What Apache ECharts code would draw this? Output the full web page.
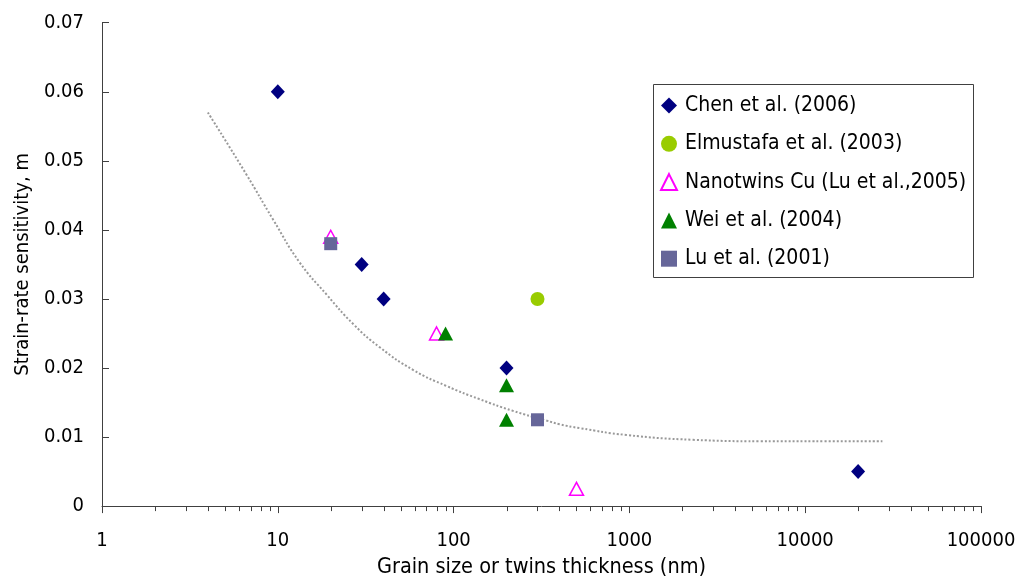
<!DOCTYPE html>
<html>
<head>
<meta charset="utf-8">
<script src="https://cdn.jsdelivr.net/npm/echarts@6/dist/echarts.min.js"></script>
<style>
  html, body { margin: 0; padding: 0; background: #fff; }
  #chart { width: 1022px; height: 583px; }
</style>
</head>
<body>
<div id="chart"></div>
<script>
// grain size (nm) vs strain-rate sensitivity m
var chenX = [10, 30, 40, 200, 20000];
var chenY = [0.06, 0.035, 0.03, 0.02, 0.005];
var elmustafaX = [300];
var elmustafaY = [0.03];
var nanotwinsX = [20, 80, 500];
var nanotwinsY = [0.039, 0.025, 0.0025];
var weiX = [90, 200, 200];
var weiY = [0.025, 0.0175, 0.0125];
var lu2001X = [20, 300];
var lu2001Y = [0.038, 0.0125];
// dotted trend curve
var trendX = [4, 6.6, 9.4, 13.3, 19, 27, 38, 59, 91, 140, 217, 336, 400, 520, 960, 2300, 5500, 13000, 27500];
var trendY = [0.057, 0.0481, 0.0415, 0.0353, 0.0306, 0.0263, 0.023, 0.0197, 0.0174, 0.0155, 0.0138, 0.0124, 0.01185, 0.0113, 0.0103, 0.0096, 0.0094, 0.0094, 0.0094];
var legendNames = ['Chen et al. (2006)', 'Elmustafa et al. (2003)', 'Nanotwins Cu (Lu et al.,2005)', 'Wei et al. (2004)', 'Lu et al. (2001)'];
var decades = [1, 10, 100, 1000, 10000];

function pairs(xs, ys) {
    var out = [];
    for (var i = 0; i < xs.length; i++) out.push([xs[i], ys[i]]);
    return out;
}

// log minor ticks 2..9 in every decade
var minorTicks = [];
decades.forEach(function (d) {
    for (var k = 2; k <= 9; k++) minorTicks.push([k * d, 0]);
});

var FONT = '"DejaVu Sans Condensed", "DejaVu Sans", sans-serif';
var AXIS_COLOR = '#404040';
var chart = echarts.init(document.getElementById('chart'));

var option = {
    animation: false,
    textStyle: { fontFamily: FONT },
    grid: { left: 102, right: 41, top: 22.7, bottom: 66.5 },
    graphic: [{
        type: 'rect',
        shape: { x: 653.5, y: 84.5, width: 320, height: 193 },
        style: { fill: '#fff', stroke: AXIS_COLOR, lineWidth: 1 },
        z: 0
    }],
    legend: {
        data: legendNames,
        orient: 'vertical',
        left: 655,
        top: 86,
        padding: [9, 4, 8, 5],
        itemWidth: 16,
        itemHeight: 16,
        itemGap: 17.3,
        textStyle: { fontFamily: FONT, fontSize: 21, color: '#000', padding: [0, 0, 0, 3] },
        z: 5
    },
    xAxis: {
        type: 'log',
        logBase: 10,
        min: 1,
        max: 100000,
        name: 'Grain size or twins thickness (nm)',
        nameLocation: 'middle',
        nameGap: 42,
        nameTextStyle: { fontFamily: FONT, fontSize: 21.5, color: '#000' },
        axisLine: { lineStyle: { color: AXIS_COLOR, width: 1 } },
        axisTick: { show: true, inside: false, length: 7, lineStyle: { color: AXIS_COLOR } },
        splitLine: { show: false },
        axisLabel: {
            fontFamily: FONT, fontSize: 20, color: '#000', margin: 25,
            formatter: function (v) { return String(Math.round(v)); }
        }
    },
    yAxis: {
        type: 'value',
        min: 0,
        max: 0.07,
        interval: 0.01,
        name: 'Strain-rate sensitivity, m',
        nameLocation: 'middle',
        nameGap: 67,
        nameTextStyle: { fontFamily: FONT, fontSize: 20, color: '#000' },
        axisLine: { show: true, lineStyle: { color: AXIS_COLOR, width: 1 } },
        axisTick: { show: true, inside: true, length: 7, lineStyle: { color: AXIS_COLOR } },
        splitLine: { show: false },
        axisLabel: {
            fontFamily: FONT, fontSize: 20, color: '#000', margin: 18,
            formatter: function (v) { return v === 0 ? '0' : v.toFixed(2); }
        }
    },
    series: [
        {
            name: 'minorTicks',
            type: 'custom',
            data: minorTicks,
            clip: false,
            silent: true,
            z: 0,
            renderItem: function (params, api) {
                var p = api.coord([api.value(0), api.value(1)]);
                var x = Math.round(p[0]) + 0.5;
                return {
                    type: 'line',
                    shape: { x1: x, y1: p[1], x2: x, y2: p[1] + 5 },
                    style: { stroke: AXIS_COLOR, lineWidth: 1 }
                };
            }
        },
        {
            name: 'trend',
            type: 'line',
            data: pairs(trendX, trendY),
            smooth: true,
            showSymbol: false,
            symbol: 'none',
            silent: true,
            lineStyle: { color: '#999999', width: 2, type: [2, 2] },
            z: 1
        },
        {
            name: legendNames[0],
            type: 'scatter',
            symbol: 'diamond',
            symbolSize: [14, 15],
            data: pairs(chenX, chenY),
            itemStyle: { color: '#000080', opacity: 1 },
            z: 2
        },
        {
            name: legendNames[1],
            type: 'scatter',
            symbol: 'circle',
            symbolSize: 14,
            data: pairs(elmustafaX, elmustafaY),
            itemStyle: { color: '#99CC00', opacity: 1 },
            z: 2
        },
        {
            name: legendNames[2],
            type: 'scatter',
            symbol: 'triangle',
            symbolSize: [14, 13],
            data: pairs(nanotwinsX, nanotwinsY),
            itemStyle: { color: '#ffffff', borderColor: '#FF00FF', borderWidth: 1.5, opacity: 1 },
            z: 2
        },
        {
            name: legendNames[3],
            type: 'scatter',
            symbol: 'triangle',
            symbolSize: [15, 14],
            data: pairs(weiX, weiY),
            itemStyle: { color: '#008000', opacity: 1 },
            z: 2
        },
        {
            name: legendNames[4],
            type: 'scatter',
            symbol: 'rect',
            symbolSize: 13,
            data: pairs(lu2001X, lu2001Y),
            itemStyle: { color: '#666699', opacity: 1 },
            z: 2
        }
    ]
};
chart.setOption(option);
</script>
</body>
</html>
